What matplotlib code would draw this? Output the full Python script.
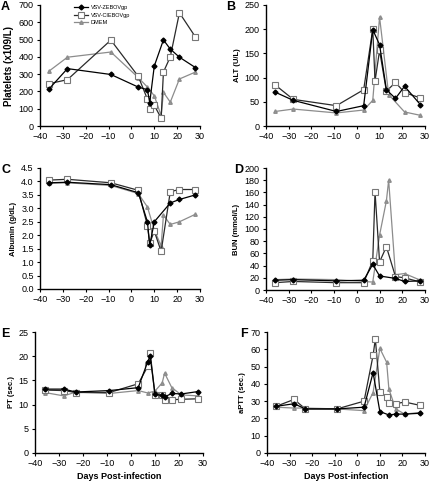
import numpy as np
import matplotlib
matplotlib.use("Agg")
import matplotlib.pyplot as plt

plt.rcParams['font.family'] = ['Liberation Sans', 'DejaVu Sans']

series_names = ["VSV-ZEBOVgp", "VSV-CIEBOVgp", "DMEM"]

# Platelets
plt_z_days = [-36, -28, -9, 3, 7, 8, 10, 14, 17, 21, 28]
plt_z = [215, 332, 298, 225, 210, 135, 347, 498, 445, 398, 338]
plt_c_days = [-36, -28, -9, 3, 7, 8, 10, 13, 14, 17, 21, 28]
plt_c = [245, 268, 497, 287, 155, 100, 120, 45, 312, 400, 655, 515]
plt_d_days = [-36, -28, -9, 3, 7, 10, 13, 14, 17, 21, 28]
plt_d = [318, 398, 428, 280, 225, 175, 60, 195, 138, 272, 312]

# ALT
alt_z_days = [-36, -28, -9, 3, 7, 10, 13, 17, 21, 28]
alt_z = [70, 53, 30, 42, 199, 168, 75, 57, 82, 44]
alt_c_days = [-36, -28, -9, 3, 7, 8, 10, 13, 17, 21, 28]
alt_c = [85, 55, 42, 75, 200, 93, 156, 72, 90, 69, 58]
alt_d_days = [-36, -28, -9, 3, 7, 10, 14, 21, 28]
alt_d = [30, 35, 27, 33, 53, 225, 65, 29, 22]

# Albumin
alb_z_days = [-36, -28, -9, 3, 7, 8, 10, 17, 21, 28]
alb_z = [3.95, 3.97, 3.88, 3.58, 2.5, 1.62, 2.5, 3.2, 3.33, 3.5]
alb_c_days = [-36, -28, -9, 3, 7, 8, 10, 13, 17, 21, 28]
alb_c = [4.05, 4.08, 3.95, 3.67, 2.36, 1.7, 2.15, 1.4, 3.62, 3.7, 3.7]
alb_d_days = [-36, -28, -9, 3, 7, 10, 13, 14, 17, 21, 28]
alb_d = [3.93, 3.95, 3.85, 3.55, 3.05, 2.2, 1.6, 2.75, 2.4, 2.5, 2.78]

# BUN
bun_z_days = [-36, -28, -9, 3, 7, 10, 17, 21, 28]
bun_z = [16, 17, 15, 16, 42, 23, 19, 14, 15]
bun_c_days = [-36, -28, -9, 3, 7, 8, 10, 13, 17, 21, 28]
bun_c = [12, 14, 12, 12, 48, 161, 46, 71, 22, 20, 13]
bun_d_days = [-36, -28, -9, 3, 7, 10, 13, 14, 17, 21, 28]
bun_d = [17, 18, 17, 14, 13, 90, 146, 180, 25, 27, 16]

# PT
pt_z_days = [-36, -28, -23, -9, 3, 7, 8, 10, 13, 14, 17, 21, 28]
pt_z = [13.2, 13.2, 12.6, 12.9, 13.5, 18.9, 20.0, 12.1, 11.9, 11.6, 12.3, 12.2, 12.7]
pt_c_days = [-36, -28, -23, -9, 3, 7, 8, 10, 13, 14, 17, 21, 28]
pt_c = [13.0, 12.9, 12.5, 12.5, 14.3, 17.9, 20.6, 12.0, 12.0, 11.0, 11.0, 11.1, 11.2]
pt_d_days = [-36, -28, -23, -9, 3, 7, 10, 13, 14, 17, 21, 28]
pt_d = [12.5, 11.8, 12.6, 12.3, 12.9, 12.4, 12.8, 14.5, 16.5, 13.5, 12.0, 11.8]

# aPTT
aptt_z_days = [-36, -28, -23, -9, 3, 7, 10, 14, 17, 21, 28]
aptt_z = [27, 28.5, 25.5, 25.5, 26.5, 46.5, 24, 22, 22.5, 22.5, 23]
aptt_c_days = [-36, -28, -23, -9, 3, 7, 8, 10, 13, 14, 17, 21, 28]
aptt_c = [27, 31, 25.5, 25.5, 30, 56.5, 66, 35.5, 32.5, 29, 28.5, 29.5, 27.5]
aptt_d_days = [-36, -28, -23, -9, 3, 7, 10, 13, 14, 17, 21, 28]
aptt_d = [26.5, 26, 26, 25.5, 24.5, 35, 60.5, 52.5, 37, 25.5, 22.5, 23.5]

panels = [
    ("A", "Platelets (x109/L)", (plt_z_days, plt_z), (plt_c_days, plt_c), (plt_d_days, plt_d), (0, 700, 100)),
    ("B", "ALT (U/L)", (alt_z_days, alt_z), (alt_c_days, alt_c), (alt_d_days, alt_d), (0, 250, 50)),
    ("C", "Albumin (g/dL)", (alb_z_days, alb_z), (alb_c_days, alb_c), (alb_d_days, alb_d), (0, 4.5, 0.5)),
    ("D", "BUN (mmol/L)", (bun_z_days, bun_z), (bun_c_days, bun_c), (bun_d_days, bun_d), (0, 200, 20)),
    ("E", "PT (sec.)", (pt_z_days, pt_z), (pt_c_days, pt_c), (pt_d_days, pt_d), (0, 25, 5)),
    ("F", "aPTT (sec.)", (aptt_z_days, aptt_z), (aptt_c_days, aptt_c), (aptt_d_days, aptt_d), (0, 70, 10)),
]

# axes rectangles and panel letter spots, in pixels from the top-left
W, H = 434, 488
boxes = [
    (40, 5, 200, 126), (266, 5, 425, 126),
    (40, 168, 200, 289), (266, 168, 425, 290),
    (35, 332, 203, 453), (267, 332, 425, 453),
]
letter_pos = [(1, 1), (226, 1), (1, 164), (234, 164), (1, 328), (240, 328)]

fig = plt.figure(figsize=(4.34, 4.88), dpi=100)

for i, (letter, ylab, zs, cs, ds, (y0, y1, ystep)) in enumerate(panels):
    x0p, y0p, x1p, y1p = boxes[i]
    ax = fig.add_axes([x0p / W, 1 - y1p / H, (x1p - x0p) / W, (y1p - y0p) / H])
    ax.plot(ds[0], ds[1], color='#8c8c8c', lw=0.9, marker='^', ms=2.5,
            mfc='#a0a0a0', mec='#8c8c8c', label=series_names[2], zorder=2)
    ax.plot(cs[0], cs[1], color='#2a2a2a', lw=0.9, marker='s', ms=3.8,
            mfc='white', mec='#777777', mew=0.8, label=series_names[1], zorder=3)
    ax.plot(zs[0], zs[1], color='black', lw=0.9, marker='D', ms=2.5,
            mfc='black', mec='black', label=series_names[0], zorder=4)
    ax.set_xlim(-40, 30)
    ax.set_ylim(y0, y1)
    ax.set_xticks(np.arange(-40, 31, 10))
    ax.set_yticks(np.arange(y0, y1 + ystep / 2, ystep))
    if ystep < 1:
        ax.yaxis.set_major_formatter(matplotlib.ticker.FormatStrFormatter('%.1f'))
    for s in ['top', 'right']:
        ax.spines[s].set_visible(False)
    for s in ['left', 'bottom']:
        ax.spines[s].set_linewidth(1.0)
    ax.tick_params(direction='out', length=2.5, width=0.8, labelsize=6.5, pad=2)
    fs = 7 if letter == "A" else 5.5
    ax.set_ylabel(ylab, fontsize=fs, fontweight='bold', labelpad=3)
    lx, ly = letter_pos[i]
    fig.text(lx / W, 1 - ly / H, letter, fontsize=9, fontweight='bold', va='top', ha='left')
    if i >= 4:
        ax.set_xlabel("Days Post-infection", fontsize=6.5, fontweight='bold', labelpad=3)
    if i == 0:
        h, l = ax.get_legend_handles_labels()
        ax.legend(h[::-1], l[::-1], loc='upper left', bbox_to_anchor=(0.2, 1.02),
                  fontsize=4, frameon=False, handlelength=2.5, labelspacing=0.5,
                  handletextpad=0.5, borderaxespad=0)

fig.savefig("out.png", dpi=100)
